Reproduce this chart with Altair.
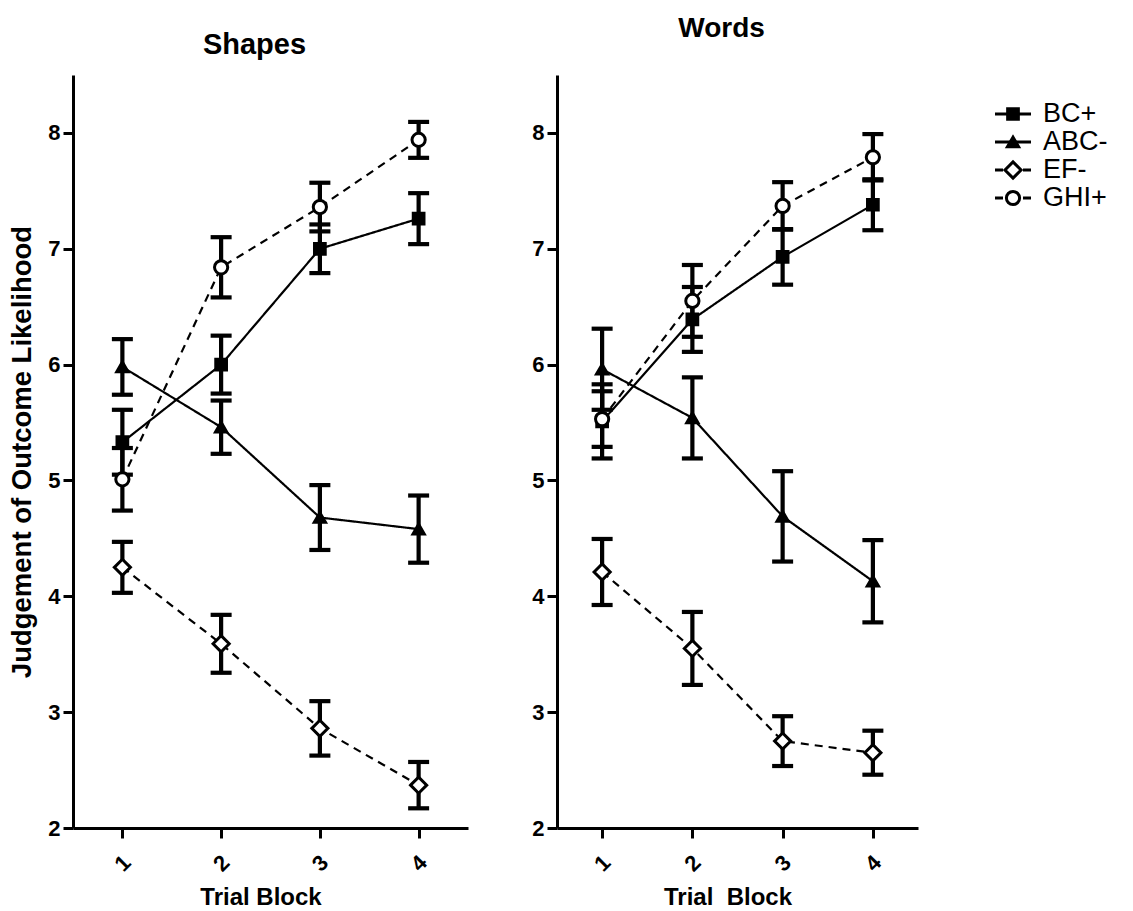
import altair as alt
import pandas as pd

# Trial blocks on the x axis and the four cue types
blocks = [1, 2, 3, 4]
series = ["BC+", "ABC-", "EF-", "GHI+"]

# Shapes condition: mean judgement and SEM per block
shapes_bc = [5.33, 6.00, 7.00, 7.26]
shapes_bc_sem = [0.28, 0.25, 0.21, 0.22]
shapes_abc = [5.98, 5.46, 4.68, 4.58]
shapes_abc_sem = [0.24, 0.23, 0.28, 0.29]
shapes_ef = [4.25, 3.59, 2.86, 2.37]
shapes_ef_sem = [0.22, 0.25, 0.235, 0.20]
shapes_ghi = [5.01, 6.84, 7.36, 7.94]
shapes_ghi_sem = [0.27, 0.26, 0.21, 0.155]

# Words condition: mean judgement and SEM per block
words_bc = [5.51, 6.39, 6.93, 7.38]
words_bc_sem = [0.32, 0.28, 0.24, 0.22]
words_abc = [5.96, 5.54, 4.69, 4.13]
words_abc_sem = [0.35, 0.35, 0.39, 0.355]
words_ef = [4.21, 3.55, 2.75, 2.65]
words_ef_sem = [0.285, 0.315, 0.215, 0.19]
words_ghi = [5.53, 6.55, 7.37, 7.79]
words_ghi_sem = [0.24, 0.31, 0.205, 0.20]

y_ticks = [2, 3, 4, 5, 6, 7, 8]

FONT = "Liberation Sans"

# Marker style per cue type: symbol, fill, symbol area
marker_style = {
    "BC+": ("square", "black", 115),
    "ABC-": ("triangle-up", "black", 125),
    "EF-": ("diamond", "white", 260),
    "GHI+": ("circle", "white", 175),
}


def build_table(groups):
    rows = []
    for name, means, sems in groups:
        for b, m, s in zip(blocks, means, sems):
            rows.append({"series": name, "block": b, "mean": m, "sem": s})
    return pd.DataFrame(rows)


shapes_df = build_table([
    ("BC+", shapes_bc, shapes_bc_sem),
    ("ABC-", shapes_abc, shapes_abc_sem),
    ("EF-", shapes_ef, shapes_ef_sem),
    ("GHI+", shapes_ghi, shapes_ghi_sem),
])
words_df = build_table([
    ("BC+", words_bc, words_bc_sem),
    ("ABC-", words_abc, words_abc_sem),
    ("EF-", words_ef, words_ef_sem),
    ("GHI+", words_ghi, words_ghi_sem),
])

dash_scale = alt.Scale(domain=series, range=[[1, 0], [1, 0], [8, 6], [8, 6]])

PLOT_H = 753


def marker_layers(base, x_enc, y_enc):
    layers = []
    for name in series:
        shape, fill, size = marker_style[name]
        layers.append(
            base.transform_filter(alt.datum.series == name).mark_point(
                shape=shape, fill=fill, size=size, stroke="black", strokeWidth=3,
                opacity=1, fillOpacity=1,
            ).encode(x=x_enc, y=y_enc)
        )
    return layers


def panel(df, title, x_title, width, show_y_title, title_offset, title_dy, title_size):
    x_enc = alt.X(
        "block:Q",
        scale=alt.Scale(domain=[0.5, 4.5], nice=False, zero=False),
        axis=alt.Axis(
            values=blocks, title=x_title, labelAngle=315, labelAlign="center",
            labelBaseline="middle", labelPadding=25, format="d",
            titleX=width / 2 - 10,
        ),
    )
    if show_y_title:
        y_axis = alt.Axis(values=y_ticks, labelPadding=3, titlePadding=11, format="d",
                          title="Judgement of Outcome Likelihood")
    else:
        y_axis = alt.Axis(values=y_ticks, labelPadding=3, format="d", title=None)
    y_scale = alt.Scale(domain=[2, 8.5], nice=False, zero=False)

    base = alt.Chart(df).transform_calculate(
        lo="datum.mean - datum.sem", hi="datum.mean + datum.sem"
    )

    lines = base.mark_line(color="black", strokeWidth=2.2).encode(
        x=x_enc,
        y=alt.Y("mean:Q", scale=y_scale, axis=y_axis),
        detail="series:N",
        strokeDash=alt.StrokeDash("series:N", scale=dash_scale, legend=None),
    )
    bars = base.mark_rule(color="black", strokeWidth=4.2).encode(
        x=x_enc, y=alt.Y("lo:Q", scale=y_scale), y2="hi:Q"
    )
    caps = base.transform_fold(["lo", "hi"], as_=["end", "value"]).mark_tick(
        color="black", orient="horizontal", size=21, thickness=4.2, opacity=1
    ).encode(x=x_enc, y=alt.Y("value:Q", scale=y_scale))
    points = marker_layers(base, x_enc, alt.Y("mean:Q", scale=y_scale))
    return alt.layer(lines, bars, caps, *points).properties(
        width=width,
        height=PLOT_H,
        title=alt.TitleParams(
            title, font=FONT, fontSize=title_size, fontWeight="bold", color="black",
            anchor="middle", baseline="alphabetic", offset=title_offset,
            dx=-16, dy=title_dy,
        ),
    )


left = panel(shapes_df, "Shapes", "Trial Block", 395, True, 0, 8, 29)
right = panel(words_df, "Words", "Trial\u00a0 Block", 361, False, 10, 0, 28)

# Key: line segment with marker plus label for each cue type
key_df = pd.DataFrame({"series": series})
key_y = alt.Y("series:N", sort=series, axis=None,
              scale=alt.Scale(type="point", range=[39, 123], padding=0))
key_base = alt.Chart(key_df)
key_lines = key_base.mark_rule(color="black", strokeWidth=3).encode(
    y=key_y,
    x=alt.value(14), x2=alt.value(50),
    strokeDash=alt.StrokeDash("series:N", scale=dash_scale, legend=None),
)
key_points = marker_layers(key_base, alt.value(32), key_y)
key_text = key_base.mark_text(
    align="left", baseline="middle", font=FONT, fontSize=27, color="black"
).encode(y=key_y, x=alt.value(62), text="series:N")
key = alt.layer(key_lines, *key_points, key_text).properties(width=125, height=PLOT_H)

chart = alt.hconcat(left, right, key, spacing=63).resolve_scale(
    strokeDash="independent"
).configure_view(strokeOpacity=0).configure_axis(
    grid=False,
    domainColor="black", domainWidth=3,
    tickColor="black", tickWidth=3, tickSize=10,
    labelFont=FONT, labelFontSize=22, labelFontWeight="bold", labelColor="black",
    titleFont=FONT, titleFontSize=27.5, titleFontWeight="bold", titleColor="black",
).configure_axisX(titleFontSize=24, titlePadding=10).properties(
    background="white", padding={"left": 8, "right": 5, "top": 15, "bottom": 0}
)

chart.save("out.html", embed_options={"renderer": "svg", "actions": False})
